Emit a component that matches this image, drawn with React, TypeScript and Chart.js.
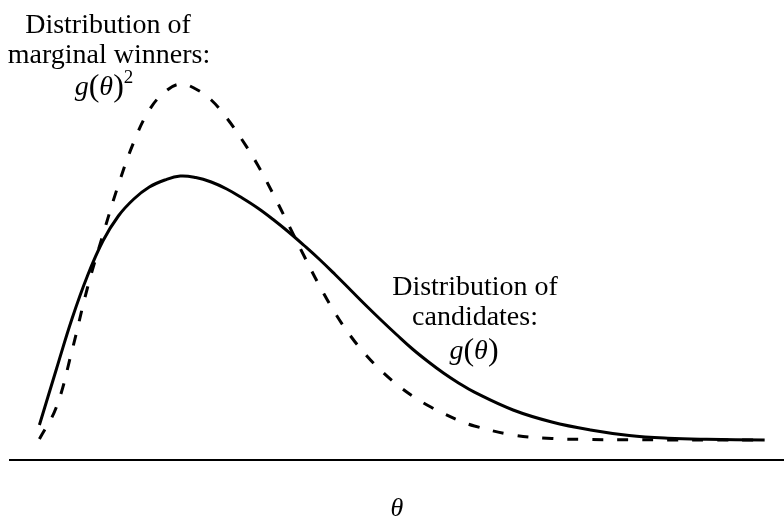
import React, { useEffect, useRef } from "react";
import { Chart, registerables } from "chart.js";

Chart.register(...registerables);

// θ positions (x axis runs from 0 to 10)
const theta = [
  0.38, 0.6, 0.8, 1.0, 1.2, 1.4, 1.6, 1.8, 2.0, 2.2, 2.4, 2.6, 2.8, 3.0, 3.2, 3.4, 3.6, 3.8,
  4.0, 4.2, 4.4, 4.6, 4.8, 5.0, 5.2, 5.4, 5.6, 5.8, 6.0, 6.5, 7.0, 7.5, 8.0, 8.5, 9.0, 9.75,
];

// Distribution of candidates: g(θ)
const candidates = [
  0.15, 0.71, 1.21, 1.64, 1.99, 2.24, 2.41, 2.53, 2.6, 2.64, 2.625, 2.58, 2.51, 2.42, 2.32, 2.205, 2.08, 1.945,
  1.805, 1.655, 1.5, 1.345, 1.195, 1.05, 0.91, 0.785, 0.67, 0.568, 0.478, 0.3, 0.18, 0.1, 0.045, 0.018, 0.007, 0.0,
];

// Distribution of marginal winners: g(θ)^2
const winners = [
  0.01, 0.33, 0.89, 1.52, 2.05, 2.55, 2.98, 3.3, 3.48, 3.56, 3.51, 3.4, 3.22, 3.0, 2.75, 2.46, 2.15, 1.84,
  1.54, 1.27, 1.04, 0.85, 0.69, 0.555, 0.44, 0.345, 0.265, 0.195, 0.14, 0.05, 0.015, 0.005, 0.002, 0.001, 0.0, 0.0,
];

const axisTitle = "θ";
const leftLabel = ["Distribution of", "marginal winners:"];
const rightLabel = ["Distribution of", "candidates:"];

const FONT = '"Liberation Serif", "Times New Roman", serif';

type Run = { t: string; italic?: boolean; size?: number; dy?: number };

function drawRuns(ctx: CanvasRenderingContext2D, runs: Run[], cx: number, baseline: number, base: number) {
  const fontOf = (r: Run) => `${r.italic ? "italic " : ""}${r.size ?? base}px ${FONT}`;
  let total = 0;
  const widths = runs.map((r) => {
    ctx.font = fontOf(r);
    const w = ctx.measureText(r.t).width;
    total += w;
    return w;
  });
  let x = cx - total / 2;
  ctx.textAlign = "left";
  runs.forEach((r, i) => {
    ctx.font = fontOf(r);
    ctx.fillText(r.t, x, baseline + (r.dy ?? 0));
    x += widths[i];
  });
}

const labelPlugin = {
  id: "labels",
  afterDraw(chart: any) {
    const ctx: CanvasRenderingContext2D = chart.ctx;
    ctx.save();
    ctx.fillStyle = "#000";
    ctx.textBaseline = "alphabetic";
    ctx.textAlign = "center";
    ctx.font = `28px ${FONT}`;
    ctx.fillText(leftLabel[0], 108, 33);
    ctx.fillText(leftLabel[1], 109, 63);
    drawRuns(
      ctx,
      [
        { t: "g", italic: true },
        { t: "(", size: 32, dy: 1 },
        { t: "θ", italic: true },
        { t: ")", size: 32, dy: 1 },
        { t: "2", size: 19, dy: -12 },
      ],
      104,
      95,
      28
    );
    ctx.textAlign = "center";
    ctx.font = `28px ${FONT}`;
    ctx.fillText(rightLabel[0], 475, 295);
    ctx.fillText(rightLabel[1], 475, 325);
    drawRuns(
      ctx,
      [
        { t: "g", italic: true },
        { t: "(", size: 32, dy: 1 },
        { t: "θ", italic: true },
        { t: ")", size: 32, dy: 1 },
      ],
      474,
      359,
      28
    );
    ctx.restore();
  },
};

export default function App() {
  const ref = useRef<HTMLCanvasElement | null>(null);
  useEffect(() => {
    if (!ref.current) return;
    const chart = new Chart(ref.current, {
      type: "line",
      data: {
        datasets: [
          {
            label: "Distribution of candidates",
            data: theta.map((t, i) => ({ x: t, y: candidates[i] })),
            borderColor: "#000",
            borderWidth: 3,
            pointRadius: 0,
            fill: false,
            tension: 0.4,
          },
          {
            label: "Distribution of marginal winners",
            data: theta.map((t, i) => ({ x: t, y: winners[i] })),
            borderColor: "#000",
            borderWidth: 3,
            borderDash: [11, 14],
            pointRadius: 0,
            fill: false,
            tension: 0.4,
          },
        ],
      },
      options: {
        animation: false,
        responsive: true,
        maintainAspectRatio: false,
        layout: { padding: { left: 10, right: 0, top: 0, bottom: 0 } },
        plugins: { legend: { display: false }, tooltip: { enabled: false } },
        scales: {
          x: {
            type: "linear",
            min: 0,
            max: 10,
            grid: { display: false, drawTicks: false },
            border: { display: true, color: "#000", width: 2 },
            ticks: { display: false },
            title: {
              display: true,
              text: axisTitle,
              color: "#000",
              font: { family: FONT, size: 26, style: "italic", lineHeight: 0.5 },
              padding: { top: 42.5, bottom: 0.5 },
            },
          },
          y: { display: false, min: -0.2, max: 4.4 },
        },
      },
      plugins: [labelPlugin],
    });
    return () => chart.destroy();
  }, []);
  return (
    <div style={{ position: "absolute", left: 0, top: 0, width: 784, height: 516, background: "#fff" }}>
      <canvas ref={ref} />
    </div>
  );
}
